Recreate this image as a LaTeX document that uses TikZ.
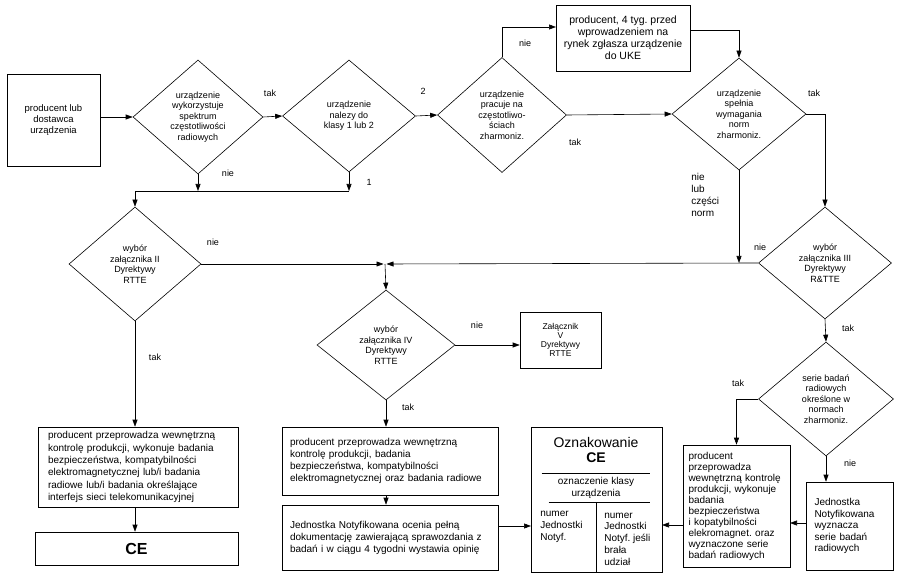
\documentclass[tikz,border=0pt]{standalone}
\usepackage{fontspec}
\setmainfont{Liberation Sans}
\usetikzlibrary{shapes.geometric,arrows.meta,positioning,calc}
\frenchspacing

\begin{document}
\begin{tikzpicture}[
    x=1pt, y=-1pt,
    line width=0.6pt,
    dia/.style={diamond, draw, inner sep=0pt, align=center, font=\fontsize{9}{10.5}\selectfont},
    box/.style={rectangle, draw, inner sep=0pt, font=\fontsize{10}{12}\selectfont},
    lbl/.style={inner sep=0pt, font=\fontsize{9}{10}\selectfont},
    arrow/.style={-{Triangle[length=7pt,width=5pt]}}
]
\useasboundingbox (0,0) rectangle (900,577);

% upper row
\node[box, align=center, minimum width=93pt, minimum height=92pt, font=\fontsize{9.5}{11}\selectfont] (prod) at (53.5,120) {producent lub\\dostawca\\urządzenia};
\node[dia, minimum width=130pt, minimum height=114pt] (widmo) at (198,117) {urządzenie\\wykorzystuje\\spektrum\\częstotliwości\\radiowych};
\node[dia, minimum width=133pt, minimum height=112pt] (klasa) at (349,116) {urządzenie\\nalezy do\\klasy 1 lub 2};
\node[dia, minimum width=129pt, minimum height=115pt] (czest) at (502,115) {urządzenie\\pracuje na\\częstotliwo-\\ściach\\zharmoniz.};
\node[box, align=center, minimum width=134pt, minimum height=66pt, font=\fontsize{10.5}{12}\selectfont] (uke) at (623,38) {producent, 4 tyg. przed\\wprowadzeniem na\\rynek zgłasza urządzenie\\do UKE};
\node[dia, minimum width=134pt, minimum height=112pt] (normy) at (739,114) {urządzenie\\spełnia\\wymagania\\norm\\zharmoniz.};

% middle row
\node[dia, minimum width=132pt, minimum height=114pt] (zal2) at (135,264) {wybór\\załącznika II\\Dyrektywy\\RTTE};
\node[dia, minimum width=133pt, minimum height=112pt] (zal3) at (825,263) {wybór\\załącznika III\\Dyrektywy\\R\&TTE};
\node[dia, minimum width=138pt, minimum height=110pt] (zal4) at (386,345) {wybór\\załącznika IV\\Dyrektywy\\RTTE};
\node[box, align=center, minimum width=81pt, minimum height=56pt, font=\fontsize{8.5}{9.2}\selectfont] (zal5) at (560.5,340) {Załącznik\\V\\Dyrektywy\\RTTE};
\node[dia, minimum width=135pt, minimum height=114pt] (serie) at (826,399) {serie badań\\radiowych\\określone w\\normach\\zharmoniz.};

% lower row
\node[box, align=left, text width=180pt, minimum width=200pt, minimum height=80pt, font=\fontsize{10}{12.3}\selectfont] (kontrolaII) at (138,467) {producent przeprowadza wewnętrzną\\kontrolę produkcji, wykonuje badania\\bezpieczeństwa, kompatybilności\\elektromagnetycznej lub/i badania\\radiowe lub/i badania określające\\interfejs sieci telekomunikacyjnej};
\node[box, minimum width=203pt, minimum height=33pt, font=\fontsize{16}{18}\selectfont] (ceII) at (136.5,548.5) {\textbf{CE}};
\node[box, align=left, text width=200pt, minimum width=216pt, minimum height=68pt] (kontrolaIV) at (390,461) {producent przeprowadza wewnętrzną\\kontrolę produkcji, badania\\bezpieczeństwa, kompatybilności\\elektromagnetycznej oraz badania radiowe};
\node[box, align=left, text width=200pt, minimum width=216pt, minimum height=65pt] (jnIV) at (390,537.5) {Jednostka Notyfikowana ocenia pełną\\dokumentację zawierającą sprawozdania z\\badań i w ciągu 4 tygodni wystawia opinię};
\node[box, minimum width=131pt, minimum height=145pt] (ozn) at (596.5,499.5) {};
\node[box, align=left, text width=96pt, minimum width=107pt, minimum height=122pt, font=\fontsize{10}{11}\selectfont] (kontrolaIII) at (736.5,506) {producent\\przeprowadza\\wewnętrzną kontrolę\\produkcji, wykonuje\\badania\\bezpieczeństwa\\i kopatybilności\\elekromagnet. oraz\\wyznaczone serie\\badań radiowych};
\node[box, align=left, text width=70pt, minimum width=87pt, minimum height=88pt, font=\fontsize{10}{11.5}\selectfont] (jnIII) at (849.5,526) {Jednostka\\Notyfikowana\\wyznacza\\serie badań\\radiowych\\[10pt]};

% inside the CE marking
\node[inner sep=0pt, align=center, font=\fontsize{14}{15}\selectfont] (oznt) at (596,450) {Oznakowanie\\\textbf{CE}};
\node[inner sep=0pt, align=center, font=\fontsize{10}{12}\selectfont] (oznk) at (596,488) {oznaczenie klasy\\urządzenia};
\node[inner sep=0pt, align=left, anchor=west, font=\fontsize{10}{11.8}\selectfont] (oznl) at (540,527) {numer\\Jednostki\\Notyf.};
\node[inner sep=0pt, align=left, anchor=west, font=\fontsize{10}{11.8}\selectfont] (oznp) at (604,539) {numer\\Jednostki\\Notyf. jeśli\\brała\\udział};
\draw ($(ozn.north west)+(11,47)$) -- ($(ozn.north east)+(-12,47)$);
\draw ($(ozn.north west)+(18,76)$) -- ($(ozn.north east)+(-12,76)$);
\draw ($(ozn.north)+(0,76)$) -- (ozn.south);

% join points
\coordinate (join) at (349,191);
\coordinate (merge) at (385,264);
\coordinate (ukein) at (556,27);
\coordinate (ukeout) at (690,30);
\coordinate (oznL) at (531,526);
\coordinate (oznR) at (662,525);
\coordinate (dR) at (790,523);

% connectors
\draw[arrow] (prod.east |- widmo) -- (widmo.west);
\draw[arrow] (widmo.east) -- (klasa.west);
\draw[arrow] (klasa.east) -- (czest.west);
\draw[arrow] (czest.north) |- (ukein);
\draw[arrow] (ukeout) -| (normy.north);
\draw[arrow] (czest.east) -- (normy.west);
\draw[arrow] (normy.east) -| (zal3.north);
\draw[arrow] (normy.south) -- (normy.south |- zal3.west);
\draw[arrow] (widmo.south) -- (widmo.south |- join);
\draw[arrow] (klasa.south) -- (join);
\draw[arrow] (join) -| (zal2.north);
\draw[arrow, shorten >=1.5pt] (zal2.east) -- (merge);
\draw[arrow, shorten >=1.5pt] (zal3.west) -- (merge);
\draw[arrow] (merge) -- (zal4.north);
\draw[arrow] (zal2.south) -- (zal2.south |- kontrolaII.north);
\draw[arrow] (kontrolaII.south -| zal2.south) -- (ceII.north -| zal2.south);
\draw[arrow] (zal4.east) -- (zal4.east -| zal5.west);
\draw[arrow] (zal4.south) -- (zal4.south |- kontrolaIV.north);
\draw[arrow] (kontrolaIV.south -| zal4.south) -- (jnIV.north -| zal4.south);
\draw[arrow] (jnIV.east |- oznL) -- (oznL);
\draw[arrow] (zal3.south) -- (serie.north);
\draw[arrow] (serie.west) -| (kontrolaIII.north);
\draw[arrow] (serie.south) -- (serie.south |- jnIII.north);
\draw[arrow] (jnIII.west |- dR) -- (dR);
\draw[arrow] (kontrolaIII.west |- oznR) -- (oznR);

% labels
\node[lbl] at (270,93) {tak};
\node[lbl] at (228,173) {nie};
\node[lbl] at (423,91) {2};
\node[lbl] at (369,182) {1};
\node[lbl] at (525,43) {nie};
\node[lbl] at (575,142) {tak};
\node[lbl] at (814,93) {tak};
\node[lbl, align=left, anchor=west, font=\fontsize{10}{12}\selectfont] at (691,195) {nie\\lub\\części\\norm};
\node[lbl] at (213,242) {nie};
\node[lbl] at (760,247) {nie};
\node[lbl] at (155,357) {tak};
\node[lbl] at (477,325) {nie};
\node[lbl] at (408,407) {tak};
\node[lbl] at (848,328) {tak};
\node[lbl] at (738,383) {tak};
\node[lbl] at (850,463) {nie};
\end{tikzpicture}
\end{document}
